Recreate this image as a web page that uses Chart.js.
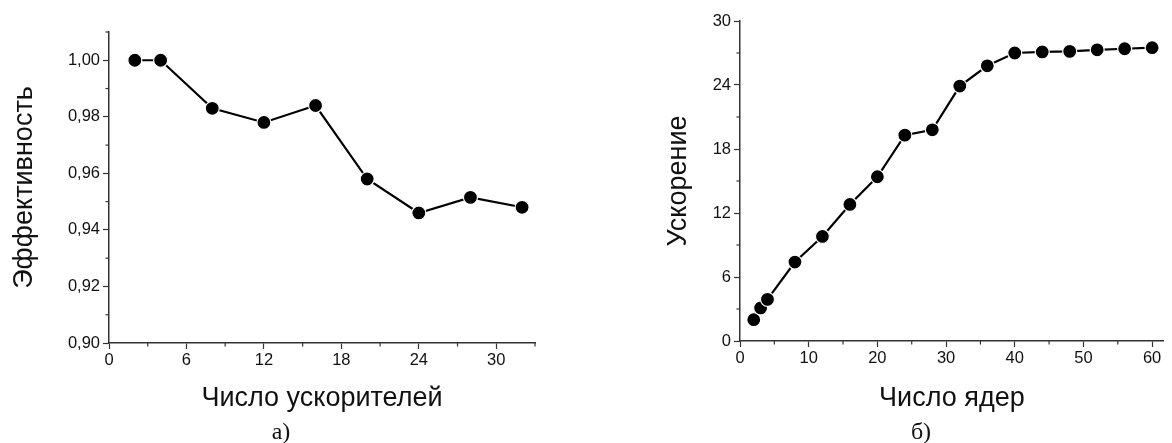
<!DOCTYPE html>
<html lang="ru">
<head>
<meta charset="utf-8">
<title>Эффективность и ускорение</title>
<script src="https://cdn.jsdelivr.net/npm/chart.js@4.4.1/dist/chart.umd.min.js"></script>
<style>
  html, body { margin: 0; padding: 0; background: #fff; }
  #wrap { position: relative; width: 1172px; height: 443px; overflow: hidden; }
  canvas { position: absolute; top: 0; }
  #effChart { left: 0; }
  #speedChart { left: 650px; }
  .caption {
    position: absolute;
    top: 418px;
    width: 60px;
    margin-left: -30px;
    text-align: center;
    font: 24px "Liberation Serif", "DejaVu Serif", serif;
    color: #111;
  }
</style>
</head>
<body>
<div id="wrap">
  <canvas id="effChart" width="580" height="443"></canvas>
  <canvas id="speedChart" width="522" height="443"></canvas>
  <div class="caption" style="left:281px;">а)</div>
  <div class="caption" style="left:921px;">б)</div>
</div>

<script>
// ---------- данные: а) эффективность ----------
const accelCount = [2, 4, 8, 12, 16, 20, 24, 28, 32];
const efficiency = [1.000, 1.000, 0.983, 0.978, 0.984, 0.958, 0.946, 0.9515, 0.948];
const accelTicks = [0, 6, 12, 18, 24, 30];
const accelMinor = [3, 9, 15, 21, 27, 33];
const effTicks = [0.90, 0.92, 0.94, 0.96, 0.98, 1.00];
const effMinor = [0.91, 0.93, 0.95, 0.97, 0.99, 1.01];

// ---------- данные: б) ускорение ----------
const coreCount = [2, 3, 4, 8, 12, 16, 20, 24, 28, 32, 36, 40, 44, 48, 52, 56, 60];
const speedup = [2.0, 3.1, 3.9, 7.4, 9.8, 12.8, 15.4, 19.3, 19.8, 23.9, 25.8, 27.0, 27.1, 27.15, 27.3, 27.4, 27.5];
const coreTicks = [0, 10, 20, 30, 40, 50, 60];
const coreMinor = [5, 15, 25, 35, 45, 55];
const speedTicks = [0, 6, 12, 18, 24, 30];
const speedMinor = [3, 9, 15, 21, 27];

const FONT = '"Liberation Sans", Arial, sans-serif';
const AXIS = '#333';
const TEXT = '#111';

// мелкие засечки между основными делениями
const minorTicksPlugin = {
  id: 'minorTicks',
  afterDraw(chart, args, opts) {
    const ctx = chart.ctx;
    ctx.save();
    ctx.strokeStyle = AXIS;
    ctx.lineWidth = 1.2;
    const x = chart.scales.x, y = chart.scales.y;
    (opts.x || []).forEach(v => {
      const px = x.getPixelForValue(v);
      ctx.beginPath();
      ctx.moveTo(px, x.top);
      ctx.lineTo(px, x.top + 3.5);
      ctx.stroke();
    });
    (opts.y || []).forEach(v => {
      const py = y.getPixelForValue(v);
      ctx.beginPath();
      ctx.moveTo(y.right, py);
      ctx.lineTo(y.right - 3.5, py);
      ctx.stroke();
    });
    ctx.restore();
  },
};

function makeChart(id, cfg) {
  const pts = cfg.xs.map((v, i) => ({ x: v, y: cfg.ys[i] }));
  return new Chart(document.getElementById(id), {
    type: 'line',
    data: {
      datasets: [{
        data: pts,
        borderColor: '#000',
        borderWidth: 2.2,
        tension: 0,
        pointRadius: 7,
        pointBackgroundColor: '#000',
        pointBorderColor: '#fff',
        pointBorderWidth: 1.2,
        clip: false,
      }],
    },
    options: {
      responsive: false,
      animation: false,
      layout: { padding: cfg.padding },
      plugins: {
        legend: { display: false },
        tooltip: { enabled: false },
        minorTicks: { x: cfg.xMinor, y: cfg.yMinor },
      },
      scales: {
        x: {
          type: 'linear',
          min: cfg.xMin,
          max: cfg.xMax,
          afterBuildTicks: s => { s.ticks = cfg.xTicks.map(v => ({ value: v })); },
          afterFit: s => { s.height = cfg.xHeight; },
          border: { display: true, color: AXIS, width: 1.5 },
          grid: { drawOnChartArea: false, drawTicks: true, tickLength: 6, tickColor: AXIS, tickWidth: 1.2 },
          ticks: { color: TEXT, font: { family: FONT, size: 16.5 }, padding: 2, maxRotation: 0 },
          title: {
            display: true,
            text: cfg.xTitle,
            color: TEXT,
            font: { family: FONT, size: 27 },
            padding: { top: 0, bottom: 28 },
          },
        },
        y: {
          type: 'linear',
          min: cfg.yMin,
          max: cfg.yMax,
          afterBuildTicks: s => { s.ticks = cfg.yTicks.map(v => ({ value: v })); },
          afterFit: s => { s.width = cfg.yWidth; },
          border: { display: true, color: AXIS, width: 1.5 },
          grid: { drawOnChartArea: false, drawTicks: true, tickLength: 6, tickColor: AXIS, tickWidth: 1.2 },
          ticks: { color: TEXT, font: { family: FONT, size: 16.5 }, padding: 3, callback: cfg.yFormat },
          title: {
            display: true,
            text: cfg.yTitle,
            color: TEXT,
            font: { family: FONT, size: 27 },
            padding: { top: cfg.yTitlePad, bottom: 0 },
          },
        },
      },
    },
    plugins: [minorTicksPlugin],
  });
}

makeChart('effChart', {
  xs: accelCount, ys: efficiency,
  xMin: 0, xMax: 33, xTicks: accelTicks, xMinor: accelMinor,
  yMin: 0.90, yMax: 1.01, yTicks: effTicks, yMinor: effMinor,
  yFormat: v => v.toFixed(2).replace('.', ','),
  xTitle: 'Число ускорителей', yTitle: 'Эффективность',
  padding: { top: 32, right: 45, bottom: 0, left: 0 },
  yWidth: 109, xHeight: 100, yTitlePad: 8,
});

makeChart('speedChart', {
  xs: coreCount, ys: speedup,
  xMin: 0, xMax: 61.7, xTicks: coreTicks, xMinor: coreMinor,
  yMin: 0, yMax: 30, yTicks: speedTicks, yMinor: speedMinor,
  yFormat: v => String(v),
  xTitle: 'Число ядер', yTitle: 'Ускорение',
  padding: { top: 21, right: 0, bottom: 0, left: 0 },
  yWidth: 90, xHeight: 102, yTitlePad: 12,
});
</script>
</body>
</html>
